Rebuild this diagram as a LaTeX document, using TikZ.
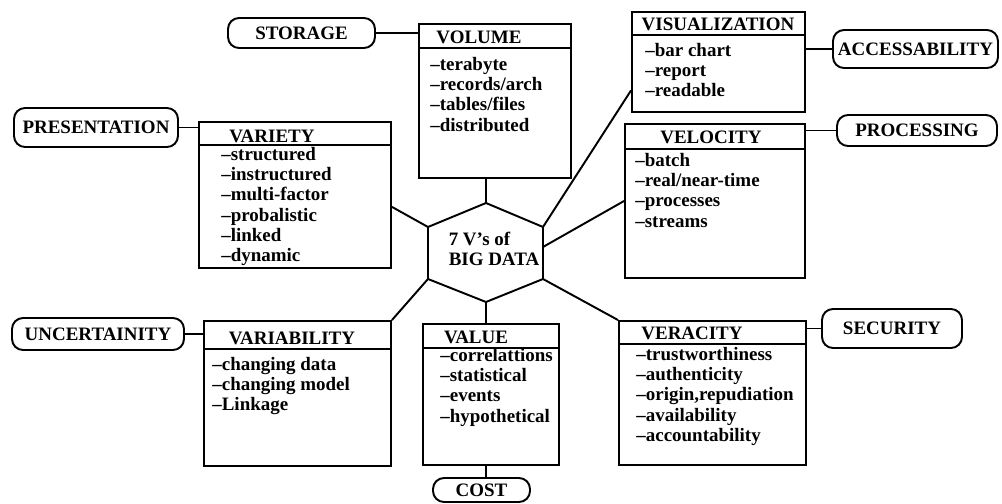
\documentclass[tikz,border=0pt]{standalone}
\usepackage{fontspec}
\setmainfont{Liberation Serif}
\usetikzlibrary{positioning,fit,calc}

\begin{document}
\begin{tikzpicture}[
  x=0.02cm,y=-0.02cm,
  font=\fontsize{10.8}{11.4}\selectfont\bfseries,
  ln/.style={line width=1.1pt},
  vbox/.style={draw,ln,inner sep=0pt},
  tag/.style={draw,ln,rounded corners=2.2mm,inner sep=0pt},
  head/.style={inner sep=0pt},
  items/.style={align=left,inner sep=0pt,anchor=north west,
                execute at begin node=\strut}]

\useasboundingbox (0,0) rectangle (1002,504);

% the seven V's
\node[vbox,fit={(419,24) (571,178)}] (vol) {};
\node[vbox,fit={(632,12) (805,112)}] (vis) {};
\node[vbox,fit={(625,124) (805,278)}] (vel) {};
\node[vbox,fit={(199,122) (391,268)}] (vty) {};
\node[vbox,fit={(204,321) (391,466)}] (vbl) {};
\node[vbox,fit={(423,324) (559,465)}] (val) {};
\node[vbox,fit={(619,321) (806,465)}] (ver) {};

\foreach \b/\h in {vol/25,vis/24,vel/26,vty/24,vbl/29,val/25,ver/24}
  \draw[ln] ($(\b.north west)+(0,\h)$) -- ($(\b.north east)+(0,\h)$);

\node[head] (volh) at (479,37) {VOLUME};
\node[head] (vish) at (718,24) {VISUALIZATION};
\node[head] (velh) at (711,137) {VELOCITY};
\node[head] (vtyh) at (272,136) {VARIETY};
\node[head] (vblh) at (292,338) {VARIABILITY};
\node[head] (valh) at (476,337) {VALUE};
\node[head] (verh) at (692,333) {VERACITY};

\node[items] (voli) at (430,57.4) {--terabyte\\--records/arch\\--tables/files\\--distributed};
\node[items] (visi) at (645,43.4) {--bar chart\\--report\\--readable};
\node[items] (veli) at (635,153.4) {--batch\\--real/near-time\\--processes\\--streams};
\node[items] (vtyi) at (221,147.4) {--structured\\--instructured\\--multi-factor\\--probalistic\\--linked\\--dynamic};
\node[items] (vbli) at (212,357.4) {--changing data\\--changing model\\--Linkage};
\node[items] (vali) at (440,348.4) {--correlattions\\--statistical\\--events\\--hypothetical};
\node[items] (veri) at (636,347.4) {--trustworthiness\\--authenticity\\--origin,repudiation\\--availability\\--accountability};

% outer tags
\node[tag,minimum width=2.94cm,minimum height=0.6cm] (stor) at (301.5,33) {STORAGE};
\node[tag,minimum width=3.3cm,minimum height=0.76cm] (acc) at (915.5,49) {ACCESSABILITY};
\node[tag,minimum width=3.2cm,minimum height=0.62cm] (proc) at (917,130.5) {PROCESSING};
\node[tag,minimum width=3.28cm,minimum height=0.78cm] (pres) at (96,127.5) {PRESENTATION};
\node[tag,minimum width=3.44cm,minimum height=0.64cm] (unc) at (98,334) {UNCERTAINITY};
\node[tag,minimum width=2.8cm,minimum height=0.78cm] (sec) at (892,328.5) {SECURITY};
\node[tag,minimum width=1.94cm,minimum height=0.48cm] (cost) at (481.5,490) {COST};

% hub
\coordinate (hexT) at (486,203);
\coordinate (hexUR) at (543,227);
\coordinate (hexR) at (543,247);
\coordinate (hexLR) at (543,279);
\coordinate (hexB) at (486,302);
\coordinate (hexLL) at (428,279);
\coordinate (hexUL) at (428,227);
\draw[ln] (hexT) -- (hexUR) -- (hexLR) -- (hexB) -- (hexLL) -- (hexUL) -- cycle;
\node[align=left,inner sep=0pt] (core) at (494,249) {7 V's of\\BIG DATA};

\draw[ln] (hexT) -- (hexT |- vol.south);
\draw[ln] (hexUR) -- (vis.-162);
\draw[ln] (hexR) -- (vel.west);
\draw[ln] (hexUL) -- (vty.-7);
\draw[ln] (hexLL) -- (vbl.north east);
\draw[ln] (hexLR) -- (ver.north west);
\draw[ln] (hexB) -- (hexB |- val.north);

\draw[ln] (stor.east) -- (stor.east -| vol.west);
\draw[ln] (acc.west) -- (acc.west -| vis.east);
\draw[ln] (proc.west) -- (proc.west -| vel.east);
\draw[ln] (pres.east) -- (pres.east -| vty.west);
\draw[ln] (unc.east) -- (unc.east -| vbl.west);
\draw[ln] (sec.west) -- (sec.west -| ver.east);
\draw[ln] (hexB |- val.south) -- (hexB |- cost.north);
\end{tikzpicture}
\end{document}
